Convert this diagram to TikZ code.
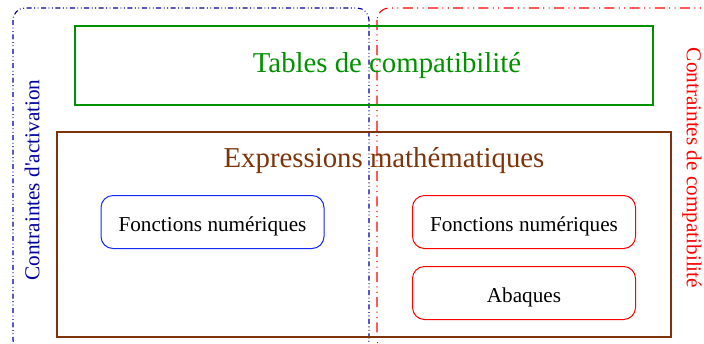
\documentclass[tikz,border=0pt]{standalone}
\usepackage{fontspec}
\setmainfont{Liberation Serif}
\definecolor{grn}{RGB}{0,145,0}
\definecolor{brn}{RGB}{125,52,10}
\definecolor{dkblue}{RGB}{0,0,160}
\definecolor{nodeblue}{RGB}{20,40,240}
\begin{document}
\begin{tikzpicture}[x=0.5pt,y=-0.5pt,
  bluezone/.style={draw=dkblue,line width=0.55pt,rounded corners=6pt,
    dash pattern=on 2.5pt off 1.3pt on 0.4pt off 1.3pt on 0.4pt off 1.3pt},
  redzone/.style={draw=red,line width=0.55pt,rounded corners=6pt,
    dash pattern=on 5pt off 2.2pt on 0.5pt off 2.2pt on 0.5pt off 2.2pt},
  gbox/.style={draw=grn,line width=0.8pt},
  bbox/.style={draw=brn,line width=0.8pt},
  fbox/.style={rounded corners=6pt,line width=0.5pt,minimum width=111.5pt,minimum height=26.5pt,inner sep=0pt,text height=11pt,text depth=1.2pt,font=\fontsize{10.6}{12.5}\selectfont},
  zlabel/.style={font=\fontsize{10.6}{12.5}\selectfont}]
\useasboundingbox (0,0) rectangle (704,343);
\begin{scope}
\clip (0,0) rectangle (704,343);
\draw[bluezone] (13,8) rectangle (369,352);
\draw[redzone] (377,8) rectangle (720,352);
\end{scope}
\draw[gbox] (75,26) rectangle (653,105);
\node[text=grn,font=\fontsize{14.4}{17}\selectfont] (tables) at (387,66) {Tables de compatibilité};
\draw[bbox] (57,132) rectangle (671,337);
\node[text=brn,font=\fontsize{14.4}{17}\selectfont] (expr) at (384,161) {Expressions mathématiques};
\node[fbox,draw=nodeblue] (fnb) at (212.5,222) {Fonctions numériques};
\node[fbox,draw=red] (fnr) at (524,222) {Fonctions numériques};
\node[fbox,draw=red] (aba) at (524,293) {Abaques};
\node[zlabel,text=dkblue,rotate=90] (lact) at (32,180) {Contraintes d\textquotesingle activation};
\node[zlabel,text=red,rotate=-90] (lcomp) at (692,168) {Contraintes de compatibilité};
\end{tikzpicture}
\end{document}
